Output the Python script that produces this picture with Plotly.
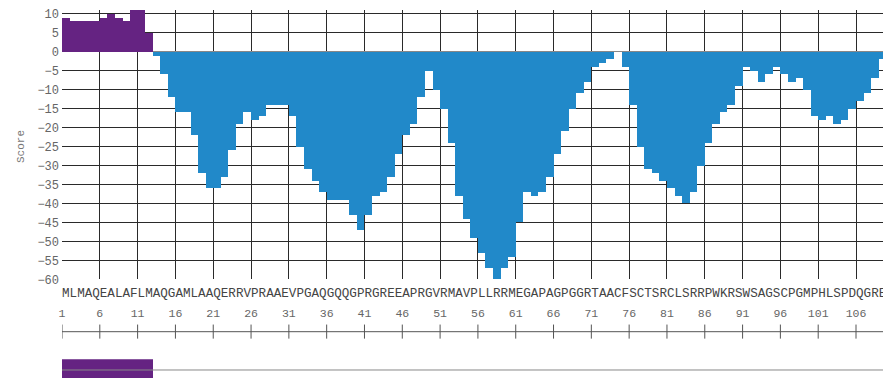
import plotly.graph_objects as go

sequence = "MLMAQEALAFLMAQGAMLAAQERRVPRAAEVPGAQGQQGPRGREEAPRGVRMAVPLLRRMEGAPAGPGGRTAACFSCTSRCLSRRPWKRSWSAGSCPGMPHLSPDQGRE"
positions = list(range(1, len(sequence) + 1))
scores = [9, 8, 8, 8, 8, 9, 10, 9, 8, 11,
          11, 5, -1, -6, -12, -16, -16, -22, -32, -36,
          -36, -33, -26, -19, -16, -18, -17, -14, -14, -14,
          -17, -25, -31, -34, -37, -39, -39, -39, -43, -47,
          -43, -38, -37, -33, -27, -22, -19, -12, -5, -10,
          -15, -24, -38, -44, -49, -53, -57, -60, -57, -54,
          -45, -37, -38, -37, -33, -27, -21, -15, -11, -8,
          -4, -3, -2, 0, -4, -14, -25, -31, -32, -34,
          -36, -38, -40, -37, -30, -24, -19, -16, -14, -9,
          -4, -5, -8, -6, -4, -6, -8, -7, -10, -17,
          -18, -17, -19, -18, -15, -13, -11, -7, -2]
ruler_ticks = list(range(1, 110, 5))
y_ticks = list(range(-60, 11, 5))
regions = [(1, 12)]  # positive-score region shown in the bottom track

PURPLE = "#652382"
BLUE = "#2189C9"
MONO = "Courier New, Liberation Mono, monospace"
XR = [1, 1 + 821 / 7.562]

fig = go.Figure()

# main score bars
fig.add_trace(go.Bar(
    x=[p + 0.5 for p in positions], y=scores, width=1,
    marker=dict(color=[PURPLE if s > 0 else BLUE for s in scores], line=dict(width=0)),
    xaxis="x", yaxis="y", showlegend=False, hoverinfo="x+y"))

# sequence letters
fig.add_trace(go.Scatter(
    x=[p + 0.5 for p in positions], y=[0] * len(positions), text=list(sequence),
    mode="text", textposition="middle center",
    textfont=dict(family=MONO, size=12.6, color="#444"),
    xaxis="x2", yaxis="y2", showlegend=False, cliponaxis=True, hoverinfo="skip"))

# ruler line + ticks
rx, ry = [XR[0], XR[1] + 2], [0, 0]
for t in ruler_ticks:
    rx += [None, t, t]
    ry += [None, -1, 1]
fig.add_trace(go.Scatter(
    x=rx, y=ry, mode="lines", line=dict(color="#555", width=1),
    xaxis="x3", yaxis="y3", showlegend=False, cliponaxis=False, hoverinfo="skip"))
fig.add_trace(go.Scatter(
    x=ruler_ticks, y=[2.45] * len(ruler_ticks), text=[str(t) for t in ruler_ticks],
    mode="text", textposition="middle center",
    textfont=dict(family=MONO, size=11.5, color="#666"),
    xaxis="x3", yaxis="y3", showlegend=False, cliponaxis=False, hoverinfo="skip"))

# bottom track
fig.add_trace(go.Scatter(
    x=[XR[0], XR[1] + 2], y=[0, 0], mode="lines", line=dict(color="#888", width=1),
    xaxis="x4", yaxis="y4", showlegend=False, hoverinfo="skip"))
fig.add_trace(go.Bar(
    x=[(a + b + 1) / 2 for a, b in regions], y=[2] * len(regions), base=[-1] * len(regions),
    width=[b - a + 1 for a, b in regions],
    marker=dict(color=PURPLE, line=dict(width=0)),
    xaxis="x4", yaxis="y4", showlegend=False, hoverinfo="skip"))

hidden_x = dict(range=XR, visible=False, showgrid=False, zeroline=False, automargin=False)
hidden_y = dict(visible=False, showgrid=False, zeroline=False, automargin=False)

fig.update_layout(
    width=883, height=378,
    margin=dict(l=62, r=0, t=10, b=0, autoexpand=False),
    paper_bgcolor="white", plot_bgcolor="white",
    bargap=0, barmode="overlay",
    xaxis=dict(range=XR, anchor="y", tickvals=ruler_ticks, showticklabels=False,
               ticks="", showgrid=True, gridcolor="#2a2a2a", gridwidth=1, zeroline=False,
               showline=False, automargin=False),
    yaxis=dict(domain=[(378 - 279.3) / 368, 1], range=[-60, 11], anchor="x",
               tickvals=y_ticks, ticks="", showgrid=True, gridcolor="#2a2a2a", gridwidth=1,
               zeroline=True, zerolinecolor="#888", zerolinewidth=1, automargin=False,
               tickfont=dict(family=MONO, size=12, color="#666"), ticklabelstandoff=2),
    xaxis2=dict(hidden_x, anchor="y2"),
    yaxis2=dict(hidden_y, domain=[0.20, 0.26], range=[-1, 1], anchor="x2"),
    xaxis3=dict(hidden_x, anchor="y3"),
    yaxis3=dict(hidden_y, domain=[0.1064, 0.1938], range=[-1, 3.5], anchor="x3"),
    xaxis4=dict(hidden_x, anchor="y4"),
    yaxis4=dict(hidden_y, domain=[0, 0.0508], range=[-0.748, 1], anchor="x4"),
    annotations=[dict(text="Score", xref="paper", yref="paper",
                      x=(13 - 62) / 821, y=(378 - 147) / 368, showarrow=False,
                      textangle=-90, font=dict(family=MONO, size=11, color="#777"))],
)

fig.write_html("out.html", config={"displayModeBar": False},
               post_script="document.body.style.margin='0px';document.body.style.overflow='hidden';")
